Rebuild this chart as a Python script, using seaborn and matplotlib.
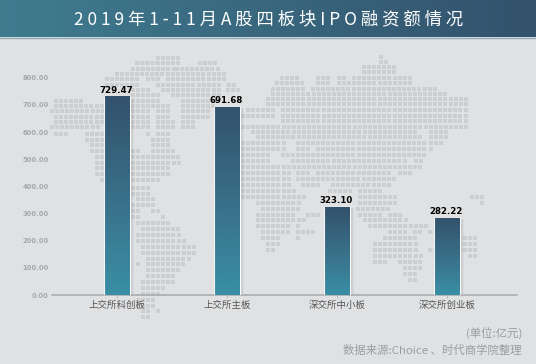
import matplotlib
matplotlib.use("Agg")
import matplotlib.pyplot as plt
from matplotlib.colors import LinearSegmentedColormap
from matplotlib.patches import Rectangle
import seaborn as sns
import numpy as np
import pandas as pd

title = "2 0 1 9 年 1 - 1 1 月 A 股 四 板 块 I P O 融 资 额 情 况"
categories = ["上交所科创板", "上交所主板", "深交所中小板", "深交所创业板"]
values = [729.47, 691.68, 323.10, 282.22]
value_labels = ["729.47", "691.68", "323.10", "282.22"]
y_ticks = [0, 100, 200, 300, 400, 500, 600, 700, 800]
note_unit = "(单位:亿元)"
note_source = "数据来源:Choice 、时代商学院整理"

# background dot map, (row y, [(x from, x to), ...]) in pixels of the picture
map_rows = [
    (58, [(158, 176)]), (63, [(137, 155), (158, 176), (200, 216)]),
    (69, [(133, 172), (177, 220)]), (74, [(117, 130), (137, 163), (168, 226)]),
    (79, [(107, 122), (127, 137), (148, 157), (168, 222)]),
    (85, [(107, 120), (127, 137), (158, 220), (229, 232)]),
    (90, [(133, 147), (163, 166), (173, 220), (228, 236)]),
    (95, [(133, 157), (173, 220)]), (101, [(56, 80), (133, 160), (183, 217)]),
    (106, [(56, 105), (133, 147), (153, 167), (183, 213)]),
    (111, [(52, 104), (133, 147), (158, 167), (183, 210)]),
    (117, [(56, 103), (133, 147), (158, 167), (183, 207)]),
    (122, [(56, 103), (133, 147), (158, 172), (183, 192)]),
    (127, [(52, 100), (133, 147), (158, 172), (183, 192)]),
    (134, [(56, 64), (87, 104), (148, 150), (158, 167)]),
    (140, [(87, 104), (153, 167)]), (145, [(92, 104), (153, 167)]),
    (151, [(92, 104), (133, 140), (153, 172)]), (157, [(97, 104), (133, 147), (153, 177)]),
    (163, [(97, 104), (133, 177)]), (168, [(97, 104), (133, 167)]),
    (174, [(97, 104), (133, 167)]), (180, [(102, 104), (133, 160)]),
    (188, [(133, 147)]), (194, [(133, 147)]), (199, [(138, 152)]),
    (205, [(133, 136), (143, 152)]), (211, [(133, 140), (153, 160)]),
    (217, [(133, 140), (163, 165)]), (223, [(138, 167)]), (229, [(143, 177)]),
    (235, [(138, 177)]), (241, [(138, 182)]), (247, [(143, 192)]), (253, [(143, 192)]),
    (259, [(148, 187)]), (264, [(138, 140), (148, 182)]), (270, [(148, 177)]),
    (276, [(148, 172)]), (282, [(143, 172)]), (288, [(143, 162)]), (294, [(143, 156)]),
    (300, [(138, 152)]), (306, [(138, 152)]), (311, [(143, 146), (158, 160)]),
    (317, [(143, 150)]),
    (57, [(381, 382)]), (62, [(381, 388)]), (67, [(364, 393)]), (72, [(364, 393)]),
    (78, [(282, 296), (318, 327), (339, 342), (354, 408)]),
    (83, [(277, 301), (318, 330), (339, 408)]), (89, [(273, 301), (313, 434)]),
    (94, [(273, 343), (349, 444)]), (99, [(268, 465)]), (104, [(268, 465)]),
    (110, [(248, 257), (263, 275), (283, 465)]), (116, [(243, 257), (263, 275), (283, 465)]),
    (121, [(283, 465)]), (127, [(243, 465)]), (132, [(253, 413), (431, 444)]),
    (137, [(258, 418), (431, 444)]), (143, [(243, 286), (298, 312), (318, 423), (431, 440)]),
    (149, [(243, 286), (298, 306), (318, 423), (431, 433)]),
    (155, [(243, 268), (283, 311), (318, 423)]), (161, [(243, 270), (293, 404), (416, 423)]),
    (167, [(243, 418)]), (173, [(243, 290), (298, 306), (318, 388), (400, 408)]),
    (179, [(243, 290), (298, 316), (323, 393)]),
    (185, [(243, 290), (303, 316), (333, 387)]), (191, [(243, 292), (330, 350), (360, 378)]),
    (197, [(243, 306), (360, 378), (385, 393), (472, 484)]),
    (203, [(258, 300), (360, 378), (385, 393), (482, 484)]),
    (209, [(263, 296), (358, 390)]), (215, [(258, 296), (308, 316), (360, 378), (390, 398)]),
    (220, [(258, 306), (365, 408)]), (226, [(258, 286), (298, 300), (370, 428), (445, 460)]),
    (232, [(263, 286), (298, 312), (390, 403), (415, 418), (430, 460)]),
    (238, [(263, 280), (298, 300), (385, 413), (460, 475)]),
    (244, [(268, 280), (375, 418), (460, 475)]),
    (250, [(268, 275), (375, 418), (430, 434), (460, 475)]),
    (256, [(375, 423), (470, 475)]), (262, [(375, 387), (400, 418)]),
    (268, [(405, 418)]), (274, [(405, 413)]), (280, [(410, 413)]),
]

sns.set_theme(style="white")
plt.rcParams["font.family"] = ["Noto Sans CJK SC", "DejaVu Sans"]

fig = plt.figure(figsize=(5.36, 3.64), dpi=100, facecolor="#e0e1e3")

# background layer in picture pixels
bg = fig.add_axes([0, 0, 1, 1], zorder=0)
bg.set_xlim(0, 536)
bg.set_ylim(364, 0)
bg.axis("off")

dots_x, dots_y = [], []
for y, runs in map_rows:
    for x0, x1 in runs:
        xs = np.arange(x0, x1 + 2.5, 5.07)
        dots_x.extend(xs)
        dots_y.extend([y] * len(xs))
bg.scatter(dots_x, dots_y, s=7, marker="s", color="#cdced0", linewidths=0)

header_cmap = LinearSegmentedColormap.from_list("header", ["#3f7c90", "#33526c"])
bg.imshow(np.linspace(0, 1, 256).reshape(1, -1), extent=(0, 536, 37, 0), aspect="auto", cmap=header_cmap)
bg.plot([0, 536], [37.7, 37.7], color="#8fabb5", lw=1)
bg.set_xlim(0, 536)
bg.set_ylim(364, 0)
bg.text(268.5, 19.5, title, color="white", fontsize=12.5, ha="center", va="center")
bg.text(522, 334, note_unit, color="#9c9d9f", fontsize=8.2, ha="right", va="center")
bg.text(522, 350, note_source, color="#9c9d9f", fontsize=8.2, ha="right", va="center")

# chart layer
ax = fig.add_axes([52 / 536, 69 / 364, 465 / 536, 217.3 / 364], zorder=1)
ax.patch.set_alpha(0)
df = pd.DataFrame({"板块": categories, "金额": values})
sns.barplot(data=df, x="板块", y="金额", color="#33526d", width=0.227, saturation=1, ax=ax, zorder=3)

bar_cmap = LinearSegmentedColormap.from_list("bar", ["#33526d", "#396f88", "#398fa5"])
grad = np.linspace(0, 1, 256).reshape(-1, 1)
for bar, label in zip(ax.patches, value_labels):
    x, w, h = bar.get_x(), bar.get_width(), bar.get_height()
    # soft shadow on the right of the bar
    for off, alpha in zip([0.04, 0.032, 0.024, 0.016, 0.008], [0.05, 0.08, 0.11, 0.14, 0.18]):
        ax.add_patch(Rectangle((x + off, 0), w, h - 3, color="#55585c", alpha=alpha, lw=0, zorder=2))
    ax.imshow(grad, extent=(x, x + w, 0, h), aspect="auto", cmap=bar_cmap, zorder=4)
    ax.plot([x - 0.006, x - 0.006], [0, h], color="#f2f3f4", lw=0.8, zorder=4)
    ax.text(x + w / 2 - 0.005, h + 8, label, ha="center", va="bottom", color="black",
            fontsize=6.2, fontweight="bold", family="DejaVu Sans", zorder=5)

ax.set_xlim(-0.591, 3.636)
ax.set_ylim(0, 800)
ax.set_xlabel("")
ax.set_ylabel("")
ax.set_yticks(y_ticks)
ax.set_yticklabels([f"{t:.2f}" for t in y_ticks], color="#a7a8aa", fontsize=4.9, fontweight="bold",
                   family="DejaVu Sans")
ax.set_xticks(range(4))
ax.set_xticklabels(categories, color="#555555", fontsize=6.8)
ax.tick_params(axis="y", length=0, pad=2.2)
ax.tick_params(axis="x", length=2, width=0.6, color="#b5b6b8", pad=2, bottom=True)
for side in ["top", "right", "left"]:
    ax.spines[side].set_visible(False)
ax.spines["bottom"].set_color("#a7a8aa")
ax.spines["bottom"].set_linewidth(1.1)

fig.savefig("out.png", dpi=100, facecolor=fig.get_facecolor())
